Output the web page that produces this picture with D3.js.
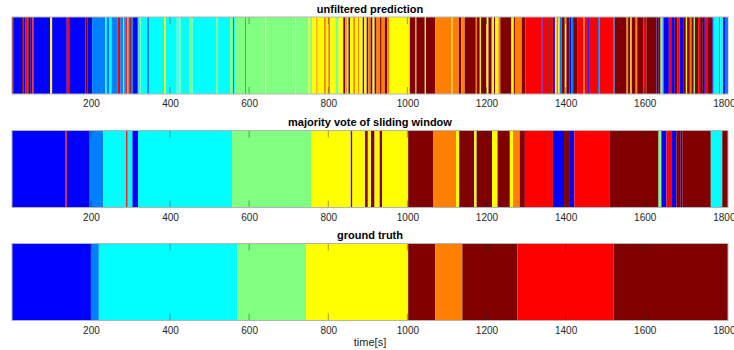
<!DOCTYPE html>
<html>
<head>
<meta charset="utf-8">
<script src="https://cdn.jsdelivr.net/npm/d3@7"></script>
<style>
  body { margin: 0; background: #fff; }
  svg { display: block; font-family: "Liberation Sans", Arial, Helvetica, sans-serif; }
</style>
</head>
<body>
<div id="chart"></div>
<script>
// class index -> jet colour
const classColors = ['#0000ff', '#0080ff', '#00ffff', '#80ff80', '#ffff00', '#ff8000', '#ff0000', '#800000'];

const tMin = 0.5;
const tMax = 1810.5;
const xTicks = [200, 400, 600, 800, 1000, 1200, 1400, 1600, 1800];

const titles = ['unfiltered prediction', 'majority vote of sliding window', 'ground truth'];

// runs: [start time, class] ; each run lasts until the next start
const unfiltered = [
  [0.5,8],[5,1],[26,8],[30,1],[35,7],[40,8],[43,1],[48,8],[52,7],[55,1],[97,5],[102,1],[139,7],[145,1],
  [186,8],[192,1],[203,2],[236,3],[240,2],[247,3],[252,2],[267,7],[274,2],[281,4],[284,2],[287,7],[291,3],
  [295,7],[298,8],[301,2],[306,8],[309,1],[318,8],[320,3],[324,4],[326,3],[342,2],[347,3],[385,5],[389,3],
  [417,4],[421,3],[424,4],[427,3],[448,4],[457,3],[517,4],[520,3],[552,4],[559,2],[562,3],[565,4],[590,2],
  [592,4],[640,5],[643,4],[716,5],[718,4],[750,5],[754,4],[759,5],[770,6],[773,5],[789,6],[794,5],[800,6],
  [805,5],[818,4],[826,5],[838,8],[843,6],[847,5],[851,8],[855,5],[863,6],[868,5],[875,6],[878,5],[887,8],
  [891,5],[897,8],[901,6],[907,8],[912,5],[917,8],[922,6],[931,8],[935,6],[943,8],[949,6],[954,5],
  [1006,8],[1020,6],[1023,8],[1044,5],[1047,8],[1070,6],[1112,5],[1114,6],[1130,8],[1136,6],[1145,8],
  [1173,6],[1176,8],[1183,5],[1186,8],[1200,5],[1205,8],[1213,6],[1215,5],[1219,8],[1222,5],[1230,6],
  [1235,8],[1263,5],[1269,8],[1272,6],[1289,8],[1298,7],[1339,1],[1342,7],[1356,8],[1358,7],[1368,1],
  [1373,5],[1377,6],[1382,5],[1385,2],[1390,8],[1398,5],[1402,8],[1410,1],[1415,2],[1419,8],[1429,7],
  [1444,6],[1448,7],[1457,1],[1461,7],[1482,2],[1486,7],[1520,2],[1524,8],[1554,6],[1558,8],[1564,5],
  [1567,8],[1577,6],[1581,8],[1597,7],[1604,8],[1630,1],[1634,8],[1640,4],[1645,2],[1648,1],[1661,7],
  [1667,1],[1676,8],[1682,7],[1688,1],[1697,8],[1704,5],[1707,8],[1714,6],[1718,8],[1724,4],[1727,8],
  [1735,7],[1740,8],[1747,1],[1752,7],[1760,8],[1771,1],[1774,3],[1788,2],[1791,3],[1798,1],[1803,2],[1808,8]
];

const majority = [
  [0.5,1],[136,7],[139,1],[197,2],[231,3],[289,7],[293,3],[305,1],[319,3],[557,4],[758,5],[857,8],
  [861,5],[893,8],[900,5],[908,8],[917,5],[930,8],[936,5],[1002,8],[1066,6],[1123,5],[1131,8],[1169,5],
  [1175,8],[1214,5],[1228,8],[1259,5],[1267,6],[1284,8],[1297,7],[1368,1],[1396,8],[1411,1],[1422,7],
  [1512,8],[1635,4],[1642,1],[1655,7],[1669,1],[1680,8],[1691,1],[1695,8],[1767,3],[1796,8]
];

const truth = [
  [0.5,1],[200,2],[220,3],[570,4],[744,5],[1002,8],[1070,6],[1139,8],[1278,7],[1521,8]
];

const panels = [unfiltered, majority, truth];

const width = 734, height = 350;
const left = 12, right = 728;
const panelTops = [17, 130.5, 243.5];
const panelH = 77;
const tickLen = 7;

const svg = d3.select('#chart').append('svg')
  .attr('width', width)
  .attr('height', height);

const x = d3.scaleLinear().domain([tMin, tMax]).range([left, right]);
const color = d3.scaleOrdinal().domain(d3.range(1, 9)).range(classColors);

panels.forEach((runs, i) => {
  const top = panelTops[i];
  const g = svg.append('g').attr('transform', `translate(0,${top})`);

  const segs = runs.map((r, k) => ({
    start: r[0],
    end: k < runs.length - 1 ? runs[k + 1][0] : tMax,
    cls: r[1]
  }));

  g.append('g')
    .selectAll('rect')
    .data(segs)
    .enter()
    .append('rect')
    .attr('x', d => x(d.start))
    .attr('y', 0)
    .attr('width', d => x(d.end) - x(d.start))
    .attr('height', panelH)
    .attr('fill', d => color(d.cls));

  // bottom axis with labels
  const bottom = g.append('g')
    .attr('transform', `translate(0,${panelH})`)
    .call(d3.axisBottom(x).tickValues(xTicks).tickSize(0).tickPadding(6).tickFormat(d3.format('d')));
  bottom.select('.domain').remove();
  bottom.selectAll('text')
    .attr('fill', '#262626')
    .style('font-size', '10px');

  // inward tick marks top and bottom
  g.append('g')
    .selectAll('line.tb')
    .data(xTicks)
    .enter()
    .append('line')
    .attr('x1', d => x(d)).attr('x2', d => x(d))
    .attr('y1', panelH).attr('y2', panelH - tickLen)
    .attr('stroke', '#262626').attr('stroke-opacity', 0.45);
  g.append('g')
    .selectAll('line.tt')
    .data(xTicks)
    .enter()
    .append('line')
    .attr('x1', d => x(d)).attr('x2', d => x(d))
    .attr('y1', 0).attr('y2', tickLen)
    .attr('stroke', '#262626').attr('stroke-opacity', 0.45);

  // box
  g.append('rect')
    .attr('x', left).attr('y', 0)
    .attr('width', right - left).attr('height', panelH)
    .attr('fill', 'none')
    .attr('stroke', '#b4b4b4')
    .attr('stroke-width', 1);

  // title
  svg.append('text')
    .attr('x', (left + right) / 2)
    .attr('y', top - 4.5)
    .attr('text-anchor', 'middle')
    .attr('font-weight', 'bold')
    .attr('font-size', '11px')
    .attr('fill', '#000')
    .text(titles[i]);
});

svg.append('text')
  .attr('x', (left + right) / 2)
  .attr('y', 346)
  .attr('text-anchor', 'middle')
  .attr('font-size', '11px')
  .attr('fill', '#262626')
  .text('time[s]');
</script>
</body>
</html>
